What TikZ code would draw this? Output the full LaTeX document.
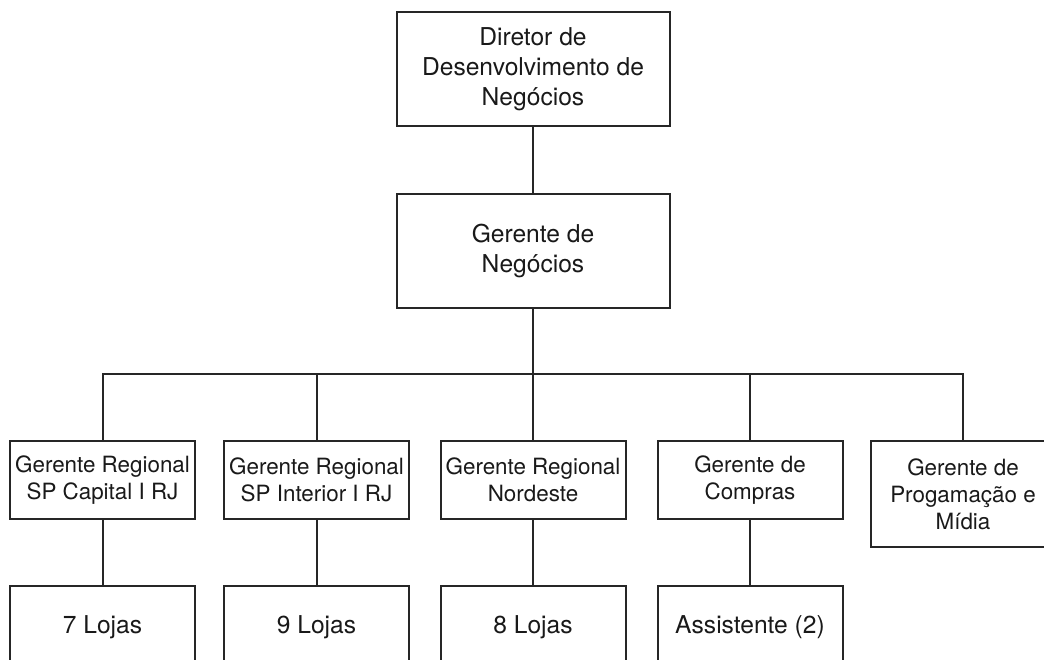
\documentclass[tikz,border=0pt]{standalone}
\usepackage{fontspec}
\setmainfont{TeX Gyre Heros}
\usepackage{tikz}
\usetikzlibrary{positioning,calc}

\begin{document}
\begin{tikzpicture}[
    x=0.5pt, y=-0.5pt,
    line width=1pt,
    topbox/.style={rectangle, draw=black!85, line width=1pt, text=black!90, align=center, minimum width=136.5pt, minimum height=57pt, font=\fontsize{12.3}{15}\selectfont, inner sep=0pt},
    regbox/.style={rectangle, draw=black!85, line width=1pt, text=black!90, align=center, minimum width=92.5pt, minimum height=39pt, font=\fontsize{11.2}{13.4}\selectfont, inner sep=0pt},
    lojabox/.style={rectangle, draw=black!85, line width=1pt, text=black!90, align=center, minimum width=92.5pt, minimum height=41pt, font=\fontsize{12.3}{15}\selectfont, inner sep=0pt},
    link/.style={draw=black!85, line width=1pt}
]
    \useasboundingbox (0,0) rectangle (1044,659);

    % Direcao
    \node[topbox] (diretor) at (533,69) {Diretor de\\Desenvolvimento de\\Negócios};
    \node[topbox] (negocios) at (533,250.5) {Gerente de\\Negócios};

    % Gerentes
    \node[regbox] (capital) at (102.5,480) {Gerente Regional\\SP Capital I RJ};
    \node[regbox] (interior) at (316.5,480) {Gerente Regional\\SP Interior I RJ};
    \node[regbox] (nordeste) at (533,480) {Gerente Regional\\Nordeste};
    \node[regbox] (compras) at (750,480) {Gerente de\\Compras};
    \node[regbox, minimum height=53pt] (midia) at (963,494) {Gerente de\\Progamação e\\Mídia};

    % Lojas
    \node[lojabox] (lojas7) at (102.5,627) {7 Lojas};
    \node[lojabox] (lojas9) at (316.5,627) {9 Lojas};
    \node[lojabox] (lojas8) at (533,627) {8 Lojas};
    \node[lojabox] (assist) at (750,627) {Assistente (2)};

    % Ligacoes
    \coordinate (bus) at (533,374);
    \draw[link] (diretor) -- (negocios);
    \draw[link] (negocios) -- (nordeste);
    \draw[link] (capital.north) -- (capital.north |- bus) -| (midia.north);
    \draw[link] (interior.north) -- (interior.north |- bus);
    \draw[link] (compras.north) -- (compras.north |- bus);
    \draw[link] (capital) -- (lojas7);
    \draw[link] (interior) -- (lojas9);
    \draw[link] (nordeste) -- (lojas8);
    \draw[link] (compras) -- (assist);
\end{tikzpicture}
\end{document}
